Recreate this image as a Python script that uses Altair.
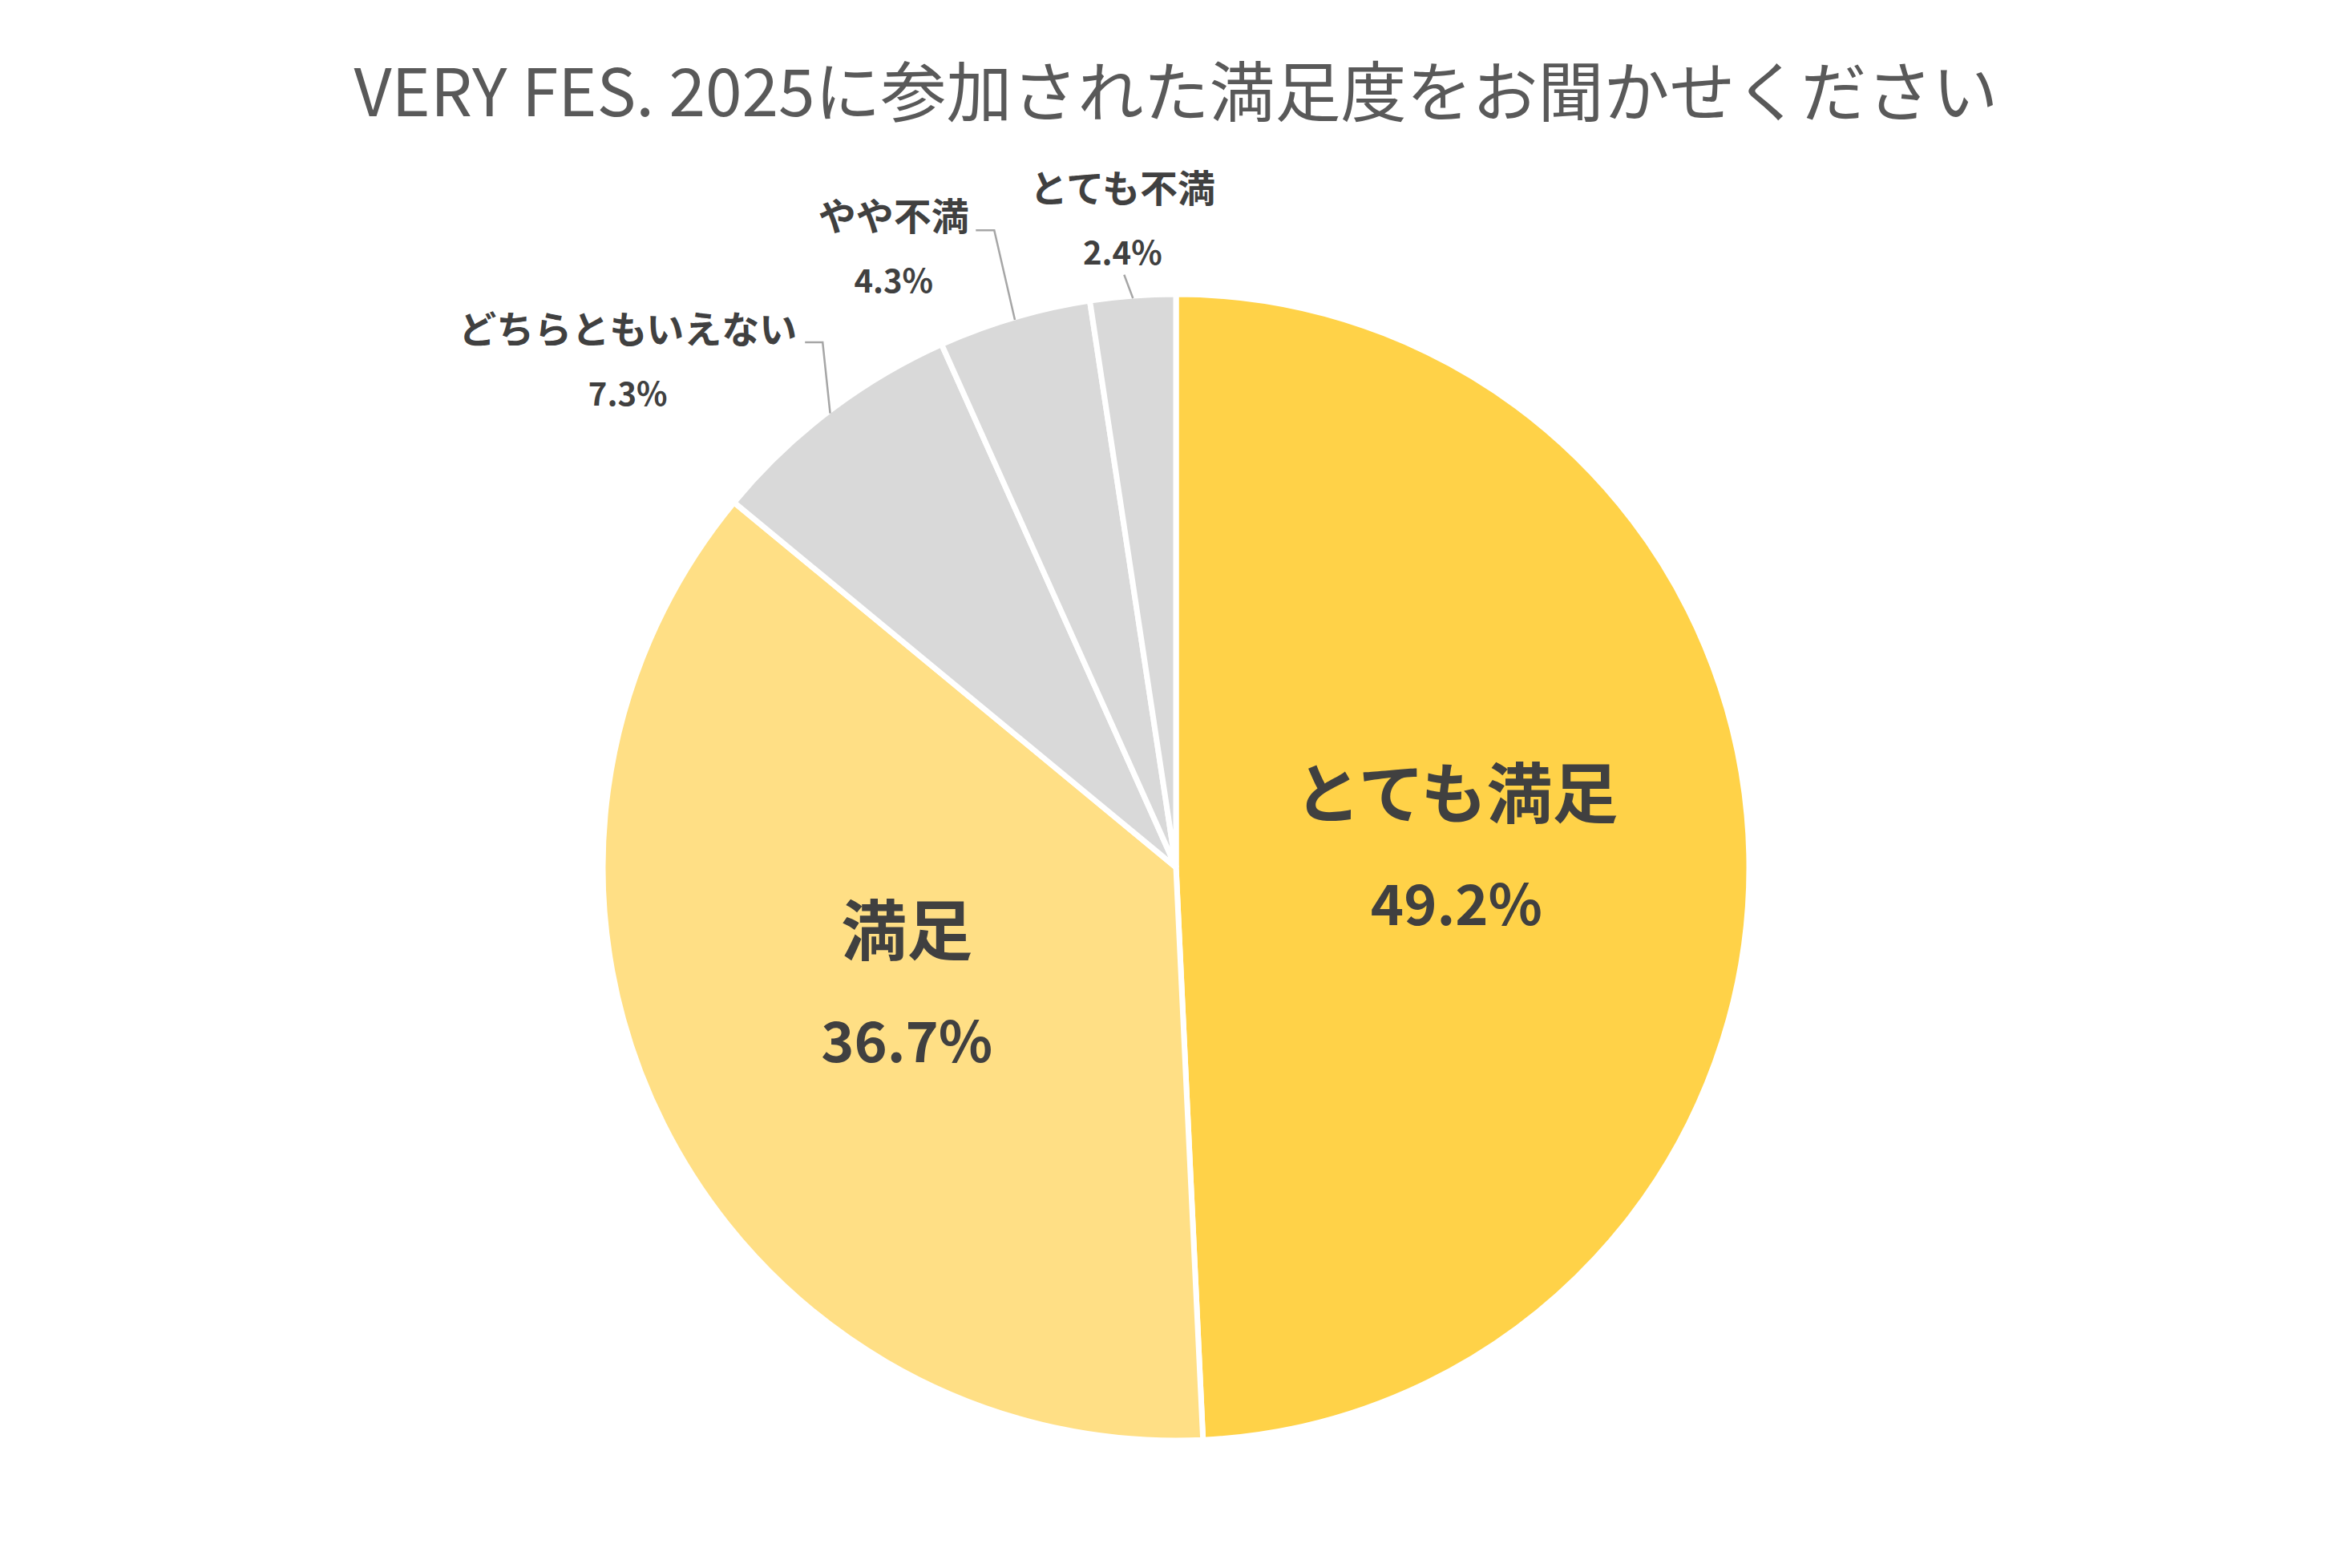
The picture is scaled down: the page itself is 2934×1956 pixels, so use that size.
import math
import altair as alt
import pandas as pd

# ---- data ----
categories = ["とても満足", "満足", "どちらともいえない", "やや不満", "とても不満"]
values = [49.2, 36.7, 7.3, 4.3, 2.4]
value_labels = ["49.2%", "36.7%", "7.3%", "4.3%", "2.4%"]
slice_colors = ["#FFD248", "#FFDF85", "#D9D9D9", "#D9D9D9", "#D9D9D9"]
title_text = "VERY FES. 2025に参加された満足度をお聞かせください"

# ---- layout / style constants ----
W, H = 2918, 1720
R_PIE = 715
R_INNER = 362
R_OUT = 805
R_EDGE = 712
FONT = "Noto Sans CJK JP"
TXT = "#404040"
inner_cats = categories[:2]
outer_style = {
    "どちらともいえない": {"dx": -196, "dy": 12, "leader": [(243, -26.5), (221, -26.5)]},
    "やや不満": {"dx": -125, "dy": 3, "leader": [(125.5, -25.5), (102.5, -25.5)]},
    "とても不満": {"dx": -6, "dy": -1, "leader": [(2, 64.5)]},
}

df = pd.DataFrame({
    "category": categories,
    "value": values,
    "label": value_labels,
    "order": list(range(len(categories))),
})

theta = alt.Theta("value:Q", stack=True)
order = alt.Order("order:Q")
base = alt.Chart(df).encode(theta=theta, order=order)

pie = base.mark_arc(outerRadius=R_PIE, stroke="white", strokeWidth=7).encode(
    color=alt.Color("category:N", scale=alt.Scale(domain=categories, range=slice_colors), legend=None)
)

inner_pred = alt.FieldOneOfPredicate(field="category", oneOf=inner_cats)
inner_names = base.mark_text(radius=R_INNER, dx=-12, dy=-78, font=FONT, fontWeight="bold",
                             fontSize=82, color=TXT, baseline="middle", align="center").encode(
    text=alt.condition(inner_pred, alt.Text("category:N"), alt.value(""))
)
inner_values = base.mark_text(radius=R_INNER, dx=-12, dy=60, font=FONT, fontWeight="bold",
                              fontSize=70, color=TXT, baseline="middle", align="center").encode(
    text=alt.condition(inner_pred, alt.Text("label:N"), alt.value(""))
)

layers = [pie, inner_names, inner_values]
for cat, st in outer_style.items():
    pred = alt.FieldEqualPredicate(field="category", equal=cat)
    layers.append(base.mark_text(radius=R_OUT, dx=st["dx"], dy=st["dy"] - 40, font=FONT, fontWeight="bold",
                                 fontSize=47, color=TXT, baseline="middle", align="center").encode(
        text=alt.condition(pred, alt.Text("category:N"), alt.value(""))
    ))
    layers.append(base.mark_text(radius=R_OUT, dx=st["dx"], dy=st["dy"] + 40, font=FONT, fontWeight="bold",
                                 fontSize=40, color=TXT, baseline="middle", align="center").encode(
        text=alt.condition(pred, alt.Text("label:N"), alt.value(""))
    ))

# leader lines computed from the slice mid angles
total = sum(values)
cum = 0.0
mids = {}
for c, v in zip(categories, values):
    mids[c] = (cum + v / 2) / total * 2 * math.pi
    cum += v

rows = []
for cat, st in outer_style.items():
    a = mids[cat]
    sx, sy = W / 2 + R_EDGE * math.sin(a), H / 2 - R_EDGE * math.cos(a)
    bx = W / 2 + R_OUT * math.sin(a) + st["dx"]
    by = H / 2 - R_OUT * math.cos(a) + st["dy"]
    pts = [(sx, sy)] + [(bx + ox, by + oy) for ox, oy in st["leader"]]
    for i, (px, py) in enumerate(pts):
        rows.append({"category": cat, "seq": i, "px": px, "py": py})
lines_df = pd.DataFrame(rows)

leaders = alt.Chart(lines_df).mark_line(color="#A6A6A6", strokeWidth=2.5).encode(
    x=alt.X("px:Q", scale=alt.Scale(domain=[0, W], nice=False, zero=False), axis=None),
    y=alt.Y("py:Q", scale=alt.Scale(domain=[0, H], nice=False, zero=False, reverse=True), axis=None),
    detail="category:N",
    order="seq:Q",
)
layers.append(leaders)

chart = alt.layer(*layers).properties(
    width=W,
    height=H,
    title=alt.Title(title_text, fontSize=82, font=FONT, fontWeight="normal", color="#595959",
                    anchor="middle", offset=52),
    autosize=alt.AutoSizeParams(type="none"),
    padding={"top": 214, "left": 0, "right": 0, "bottom": 0},
).configure_view(stroke=None)

chart.save("out.html", embed_options={"renderer": "svg", "actions": False})
